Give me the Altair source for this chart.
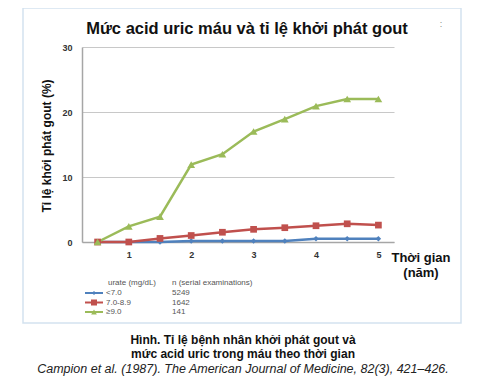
import altair as alt
import pandas as pd

# ---- data ----
years = [0.5, 1, 1.5, 2, 2.5, 3, 3.5, 4, 4.5, 5]
series_names = ["<7.0", "7.0-8.9", "≥9.0"]
series_n = ["5249", "1642", "141"]
low_vals = [0, 0, 0, 0.15, 0.15, 0.15, 0.15, 0.5, 0.5, 0.5]
mid_vals = [0, 0, 0.55, 1.0, 1.5, 1.95, 2.2, 2.5, 2.8, 2.6]
high_vals = [0, 2.4, 3.9, 11.9, 13.5, 17.0, 18.9, 20.9, 22.0, 22.0]
x_ticks = [1, 2, 3, 4, 5]
y_ticks = [0, 10, 20, 30]

colors = ["#4F81BD", "#C0504D", "#9BBB59"]
shapes = ["diamond", "square", "triangle-up"]
sizes = [30, 60, 55]

title_text = "Mức acid uric máu và tỉ lệ khởi phát gout"
y_title = "Tỉ lệ khởi phát gout (%)"
x_title = ["Thời gian", "(năm)"]
legend_head = ["urate (mg/dL)", "n (serial examinations)"]
caption = ["Hình. Tỉ lệ bệnh nhân khởi phát gout và",
           "mức acid uric trong máu theo thời gian"]
citation = "Campion et al. (1987). The American Journal of Medicine, 82(3), 421–426."

rows = []
for name, vals in zip(series_names, [low_vals, mid_vals, high_vals]):
    for yr, v in zip(years, vals):
        rows.append({"year": yr, "value": v, "series": name})
df = pd.DataFrame(rows)

W, H = 312, 195
FONT = "Liberation Sans"

xs = alt.X("year:Q", scale=alt.Scale(domain=[0.25, 5.25], nice=False, zero=False),
           axis=alt.Axis(values=x_ticks, format="d", grid=False, ticks=False, title=None,
                         labelFont=FONT, labelFontWeight="bold", labelFontSize=9,
                         labelColor="#333333", labelPadding=8,
                         domainColor="#a6a6a6", domainWidth=1.5))
ys = alt.Y("value:Q", scale=alt.Scale(domain=[0, 30], nice=False),
           axis=alt.Axis(values=y_ticks, format="d", grid=True, gridColor="#c8c8c8",
                         gridWidth=1.2, ticks=False, title=None, labelFont=FONT,
                         labelFontWeight="bold", labelFontSize=9, labelColor="#333333",
                         labelPadding=10, domainColor="#a6a6a6", domainWidth=1.5))
col = alt.Color("series:N", scale=alt.Scale(domain=series_names, range=colors), legend=None)
shp = alt.Shape("series:N", scale=alt.Scale(domain=series_names, range=shapes), legend=None)
sz = alt.Size("series:N", scale=alt.Scale(domain=series_names, range=sizes), legend=None)

one = pd.DataFrame({"k": [0]})

def txt(t, x, y, size, weight="normal", style="normal", align="center",
        color="#111111", angle=0, font=FONT):
    kw = dict(text=t, fontSize=size, fontWeight=weight, fontStyle=style, align=align,
              baseline="middle", color=color, font=font)
    if angle:
        kw["angle"] = angle
    return alt.Chart(one).mark_text(**kw).encode(x=alt.value(x), y=alt.value(y))

box = alt.Chart(one).mark_rect(fillOpacity=0, stroke="#d3e2ef", strokeWidth=1.5).encode(
    x=alt.value(-59), x2=alt.value(379), y=alt.value(-39), y2=alt.value(276))

lines = alt.Chart(df).mark_line(strokeWidth=2.5).encode(
    x=xs, y=ys, color=col, detail="series:N",
    order=alt.Order("year:Q"))
points = alt.Chart(df).mark_point(filled=True, opacity=1).encode(
    x="year:Q", y="value:Q", color=col, shape=shp, size=sz)

layers = [box, lines, points,
          txt(title_text, 165, -18, 16.5, weight="bold"),
          txt(":", 359, -23, 9, color="#888888"),
          txt(y_title, -35, 99, 12, weight="bold", angle=270),
          txt(x_title[0], 339, 211, 13, weight="bold"),
          txt(x_title[1], 339, 226, 13, weight="bold"),
          txt(legend_head[0], 26, 236, 8, align="left", color="#555555"),
          txt(legend_head[1], 90, 236, 8, align="left", color="#555555"),
          txt(caption[0], 161, 293, 12, weight="bold"),
          txt(caption[1], 161, 307, 12, weight="bold"),
          txt(citation, 161, 322, 12.5, style="italic", color="#222222")]

row_y = [246, 255.5, 265]
for i, name in enumerate(series_names):
    yy = row_y[i]
    layers.append(alt.Chart(one).mark_rule(color=colors[i], strokeWidth=2).encode(
        x=alt.value(3), x2=alt.value(21), y=alt.value(yy)))
    layers.append(alt.Chart(one).mark_point(filled=True, opacity=1, shape=shapes[i],
                                            color=colors[i], size=sizes[i] * 0.6).encode(
        x=alt.value(12), y=alt.value(yy)))
    layers.append(txt(name, 24, yy, 8, align="left", color="#555555"))
    layers.append(txt(series_n[i], 90, yy, 8, align="left", color="#555555"))

chart = alt.layer(*layers).properties(
    width=W, height=H,
    autosize=alt.AutoSizeParams(type="none"),
    padding={"left": 74, "top": 39, "right": 78, "bottom": 134},
    background="white",
).configure_view(stroke=None)

chart.save("out.html", embed_options={"renderer": "svg", "actions": False})
